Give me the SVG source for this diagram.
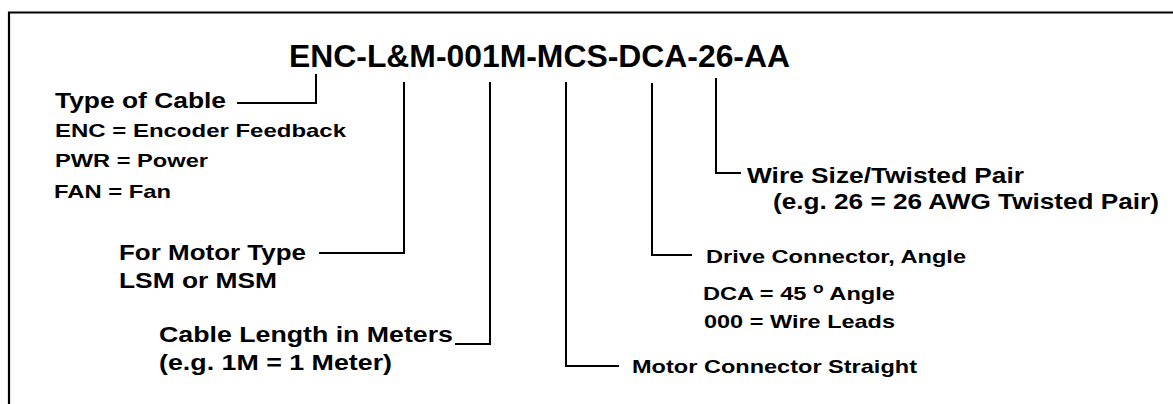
<svg xmlns="http://www.w3.org/2000/svg" width="1173" height="404" viewBox="0 0 1173 404">
<style>
text{font-family:"Liberation Sans",Arial,sans-serif;font-weight:bold;fill:#000}
.t{font-size:31px}
.l{font-size:22px}
.s{font-size:19px}
.c{fill:none;stroke:#000;stroke-width:2}
.f{fill:none;stroke:#000;stroke-width:2.2}
</style>
<rect width="1173" height="404" fill="#fff"/>
<path class="f" d="M9,404 V12.5 H1173"/>
<g id="title"><text class="t" x="289" y="67" textLength="501" lengthAdjust="spacingAndGlyphs">ENC-L&amp;M-001M-MCS-DCA-26-AA</text></g>
<g id="connectors">
<path class="c" d="M316,74 V103 H237"/>
<path class="c" d="M404,82 V253 H319"/>
<path class="c" d="M490,82 V344 H455"/>
<path class="c" d="M566,82 V366 H619"/>
<path class="c" d="M652,83 V255 H692"/>
<path class="c" d="M716,78 V173 H741"/>
</g>
<g id="type">
<text class="l" x="55" y="108" textLength="171" lengthAdjust="spacingAndGlyphs">Type of Cable</text>
<text class="s" x="55" y="137" textLength="291" lengthAdjust="spacingAndGlyphs">ENC = Encoder Feedback</text>
<text class="s" x="55" y="167" textLength="153" lengthAdjust="spacingAndGlyphs">PWR = Power</text>
<text class="s" x="54" y="198" textLength="117" lengthAdjust="spacingAndGlyphs">FAN = Fan</text>
</g>
<g id="motortype">
<text class="l" x="119" y="260" textLength="187" lengthAdjust="spacingAndGlyphs">For Motor Type</text>
<text class="l" x="119" y="288" textLength="158" lengthAdjust="spacingAndGlyphs">LSM or MSM</text>
</g>
<g id="length">
<text class="l" x="159" y="342" textLength="294" lengthAdjust="spacingAndGlyphs">Cable Length in Meters</text>
<text class="l" x="159" y="370" textLength="233" lengthAdjust="spacingAndGlyphs">(e.g. 1M = 1 Meter)</text>
</g>
<g id="motorconn">
<text class="s" x="632" y="373" textLength="285" lengthAdjust="spacingAndGlyphs">Motor Connector Straight</text>
</g>
<g id="driveconn">
<text class="s" x="706" y="263" textLength="260" lengthAdjust="spacingAndGlyphs">Drive Connector, Angle</text>
<text class="s" x="703" y="300" textLength="192" lengthAdjust="spacingAndGlyphs">DCA = 45 <tspan font-size="14" dy="-7">o</tspan><tspan dy="7"> Angle</tspan></text>
<text class="s" x="704" y="328" textLength="191" lengthAdjust="spacingAndGlyphs">000 = Wire Leads</text>
</g>
<g id="wiresize">
<text class="l" x="747" y="183" textLength="277" lengthAdjust="spacingAndGlyphs">Wire Size/Twisted Pair</text>
<text class="l" x="773" y="209" textLength="386" lengthAdjust="spacingAndGlyphs">(e.g. 26 = 26 AWG Twisted Pair)</text>
</g>
</svg>
